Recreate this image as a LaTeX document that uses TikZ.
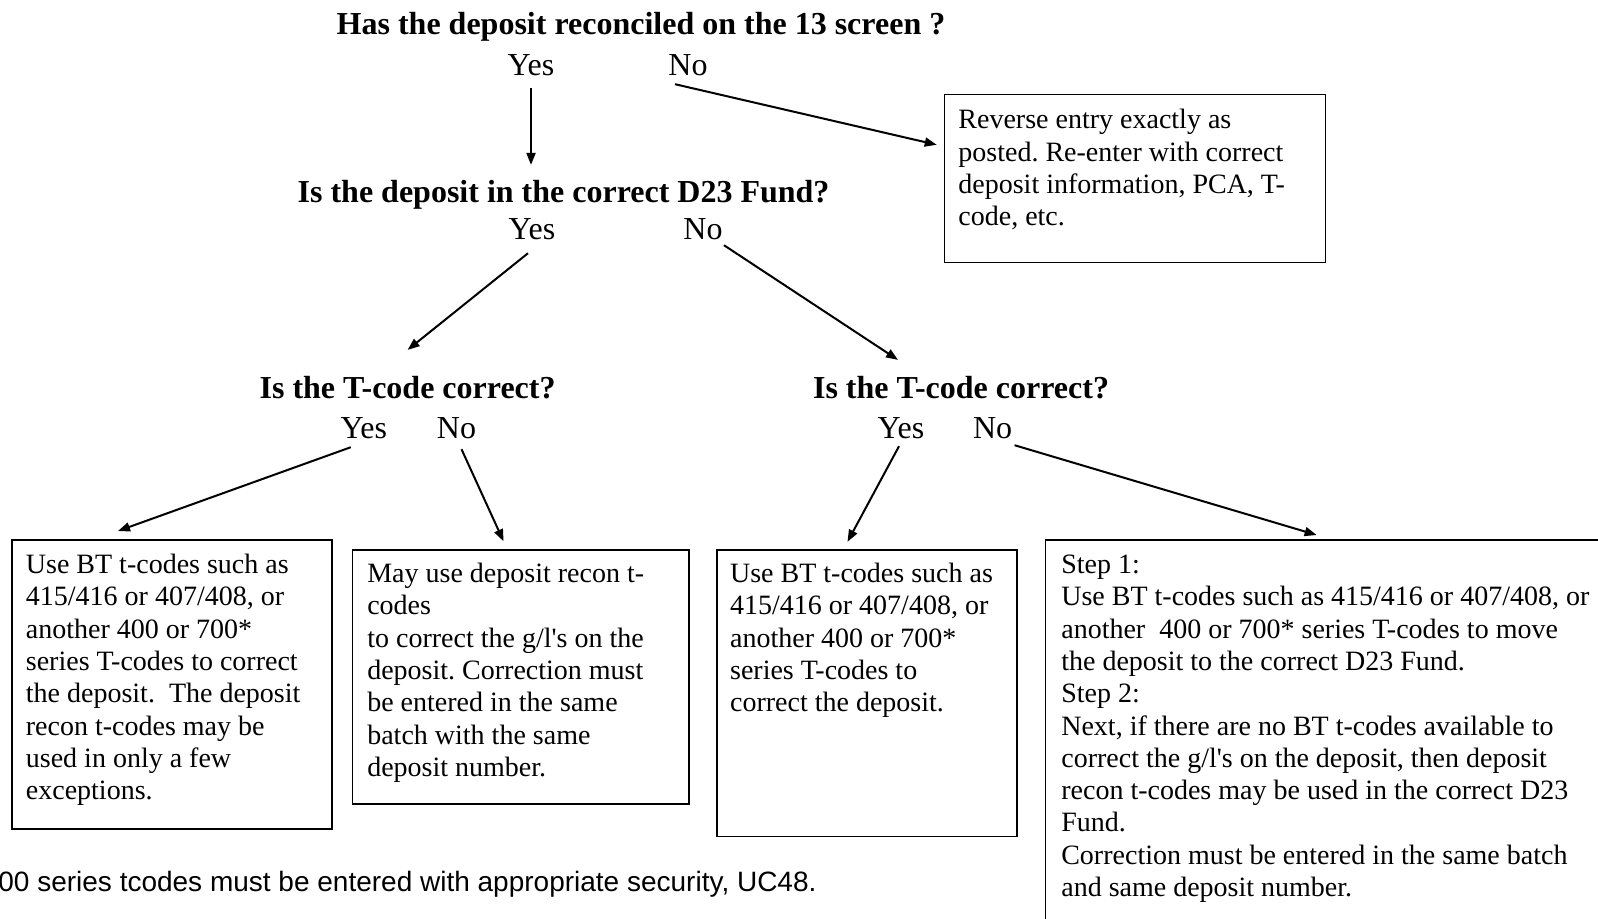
\documentclass[tikz,border=0pt]{standalone}
\usepackage{fontspec}
\setmainfont{Liberation Serif}
\newfontfamily\arialfont{Liberation Sans}
\usetikzlibrary{arrows.meta,calc}
\frenchspacing
\newcommand{\bodyfont}{\fontsize{14}{16.15}\selectfont}
\newcommand{\headfont}{\fontsize{16}{18}\selectfont\bfseries}
\newcommand{\ynfont}{\fontsize{16}{18}\selectfont}
\newcommand{\rowlines}[1]{\begin{tabular}[t]{@{}l@{}}#1\end{tabular}}
\newcommand{\ap}{\textquotesingle}
\begin{document}
\begin{tikzpicture}[x=0.5pt,y=-0.5pt,
  head/.style={font=\headfont, inner sep=0pt, anchor=base},
  yn/.style={font=\ynfont, inner sep=0pt, anchor=base},
  box/.style={draw, line width=0.8pt, inner sep=0pt, anchor=north west},
  txt/.style={font=\bodyfont, inner sep=0pt, anchor=base west},
  arr/.style={line width=1pt, -{Triangle[length=6pt,width=4.5pt]}}]
\useasboundingbox (0,0) rectangle (1598,919);

% questions and answers
\node[head] (t1) at (641,34.5) {Has the deposit reconciled on the 13 screen ?};
\node[yn] (y1) at (531,75.5) {Yes};
\node[yn] (n1) at (688,75.5) {No};
\node[head] (t2) at (563.6,202.5) {Is the deposit in the correct D23 Fund?};
\node[yn] (y2) at (532,239.5) {Yes};
\node[yn] (n2) at (703,239.5) {No};
\node[head] (t3l) at (407.6,398.5) {Is the T-code correct?};
\node[yn] (y3l) at (363.8,438.5) {Yes};
\node[yn] (n3l) at (456.5,438.5) {No};
\node[head] (t3r) at (961,398.5) {Is the T-code correct?};
\node[yn] (y3r) at (901,438.5) {Yes};
\node[yn] (n3r) at (992.6,438.5) {No};

% boxes
\node[box, minimum width=190.55pt, minimum height=84.05pt] (rev) at (943.7,93.8) {};
\node[txt] (revt) at (958,129) {\rowlines{Reverse entry exactly as\\posted. Re-enter with correct\\deposit information, PCA, T-\\code, etc.}};

\node[box, minimum width=160pt, minimum height=144.7pt] (b1) at (11.2,539) {};
\node[txt] (b1t) at (25.5,573.5) {\rowlines{Use BT t-codes such as\\415/416 or 407/408, or\\another 400 or 700*\\series T-codes to correct\\the deposit.\ \ The deposit\\recon t-codes may be\\used in only a few\\exceptions.}};

\node[box, minimum width=168.15pt, minimum height=126.85pt] (b2) at (351.6,549.3) {};
\node[txt] (b2t) at (366.9,582.5) {\rowlines{May use deposit recon t-\\codes\\to correct the g/l\ap s on the\\deposit. Correction must\\be entered in the same\\batch with the same\\deposit number.}};

\node[box, minimum width=149.8pt, minimum height=143.2pt] (b3) at (716.4,549.3) {};
\node[txt] (b3t) at (729.7,582.5) {\rowlines{Use BT t-codes such as\\415/416 or 407/408, or\\another 400 or 700*\\series T-codes to\\correct the deposit.}};

\node[box, minimum width=287.7pt, minimum height=200.75pt] (b4) at (1044.6,539) {};
\node[txt] (b4t) at (1060.9,573.5) {\rowlines{Step 1:\\Use BT t-codes such as 415/416 or 407/408, or\\another\ \ 400 or 700* series T-codes to move\\the deposit to the correct D23 Fund.\\Step 2:\\Next, if there are no BT t-codes available to\\correct the g/l\ap s on the deposit, then deposit\\recon t-codes may be used in the correct D23\\Fund.\\Correction must be entered in the same batch\\and same deposit number.}};

\node[font=\arialfont\fontsize{14}{16}\selectfont, inner sep=0pt, anchor=base west] (foot) at (-2,891) {00 series tcodes must be entered with appropriate security, UC48.};

% connectors
\draw[arr] ($(y1.south)+(0,12)$) -- ($(y1.south |- t2.north)+(0,-15)$);
\draw[arr] ($(n1.south west)+(7,8)$) -- ($(rev.north west)+(-7,51)$);
\draw[arr] ($(y2.south)+(-4,13)$) -- ($(t3l.north)+(0,-26)$);
\draw[arr] ($(n2.south east)+(1,5)$) -- ($(t3r.north)+(-63,-16)$);
\draw[arr] ($(y3l.south)+(-13,8)$) -- ($(b1.north)+(-54,-8)$);
\draw[arr] ($(n3l.south)+(5,10)$) -- ($(b2.north)+(-17,-8)$);
\draw[arr] ($(y3r.south)+(-2,7)$) -- ($(b3.north)+(-19.5,-7.5)$);
\draw[arr] ($(n3r.south east)+(2,6)$) -- ($(b4.north west)+(272,-4)$);
\end{tikzpicture}
\end{document}
